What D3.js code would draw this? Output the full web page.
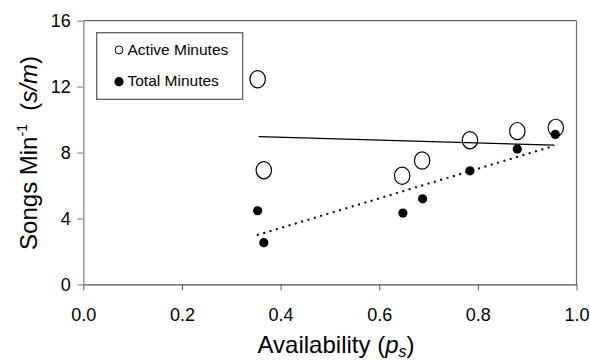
<!DOCTYPE html>
<html><head><meta charset="utf-8">
<script src="https://cdn.jsdelivr.net/npm/d3@7"></script>
<style>body{margin:0;background:#fff}svg{display:block}text{font-family:Arial,"Liberation Sans",sans-serif}</style>
</head><body>
<script>
const activeX = [0.3535, 0.366, 0.6465, 0.687, 0.784, 0.880, 0.958];
const activeY = [12.45, 6.93, 6.59, 7.52, 8.75, 9.30, 9.50];
const totalX = [0.3535, 0.366, 0.648, 0.688, 0.784, 0.880, 0.957];
const totalY = [4.47, 2.53, 4.33, 5.19, 6.89, 8.22, 9.10];
const activeFitX = [0.3556, 0.955];
const activeFitY = [8.97, 8.45];
const totalFitX = [0.352, 0.955];
const totalFitY = [2.99, 8.41];
const xTicks = [0, 0.2, 0.4, 0.6, 0.8, 1.0];
const yTicks = [0, 4, 8, 12, 16];
const legendLabels = ["Active Minutes", "Total Minutes"];

const W = 590, H = 364;
const svg = d3.select("body").append("svg").attr("width", W).attr("height", H);
const x = d3.scaleLinear().domain([0, 1]).range([83.3, 576.5]);
const y = d3.scaleLinear().domain([0, 16]).range([284.4, 20.7]);

// frame top & right
svg.append("line").attr("x1", x(0)).attr("x2", x(1)).attr("y1", y(16)).attr("y2", y(16)).attr("stroke", "#666").attr("stroke-width", 1.2);
svg.append("line").attr("x1", x(1)).attr("x2", x(1)).attr("y1", y(16)).attr("y2", y(0)).attr("stroke", "#666").attr("stroke-width", 1.2);

const xAxis = svg.append("g").attr("transform", `translate(0,${y(0)})`)
  .call(d3.axisBottom(x).tickValues(xTicks).tickFormat(d3.format(".1f")).tickSize(6).tickSizeOuter(0));
xAxis.select(".domain").attr("stroke", "#555").attr("stroke-width", 1.2);
xAxis.selectAll(".tick line").attr("stroke", "#555");
xAxis.selectAll(".tick text").attr("font-size", 18).attr("fill", "#000").attr("y", 23.5).attr("dy", "0.71em")
  .attr("font-family", "Arial, 'Liberation Sans', sans-serif");

const yAxis = svg.append("g").attr("transform", `translate(${x(0)},0)`)
  .call(d3.axisLeft(y).tickValues(yTicks).tickFormat(d3.format("d")).tickSize(6).tickSizeOuter(0));
yAxis.select(".domain").attr("stroke", "#999").attr("stroke-width", 1.5);
yAxis.selectAll(".tick line").attr("stroke", "#777");
yAxis.selectAll(".tick text").attr("font-size", 18).attr("fill", "#000").attr("x", -12.5)
  .attr("font-family", "Arial, 'Liberation Sans', sans-serif");

// fit lines
const line = d3.line().x(d => x(d[0])).y(d => y(d[1]));
svg.append("path").datum(activeFitX.map((v, i) => [v, activeFitY[i]])).attr("d", line)
  .attr("stroke", "#000").attr("stroke-width", 1.3).attr("fill", "none");
svg.append("path").datum(totalFitX.map((v, i) => [v, totalFitY[i]])).attr("d", line)
  .attr("stroke", "#000").attr("stroke-width", 2).attr("stroke-dasharray", "2,4.6").attr("fill", "none");

// points
svg.append("g").selectAll("ellipse").data(activeX.map((v, i) => [v, activeY[i]])).join("ellipse")
  .attr("cx", d => x(d[0])).attr("cy", d => y(d[1])).attr("rx", 7.7).attr("ry", 8.6)
  .attr("fill", "none").attr("stroke", "#000").attr("stroke-width", 1.2);
svg.append("g").selectAll("circle").data(totalX.map((v, i) => [v, totalY[i]])).join("circle")
  .attr("cx", d => x(d[0])).attr("cy", d => y(d[1])).attr("r", 4.6).attr("fill", "#000");

// legend
svg.append("rect").attr("x", 96.7).attr("y", 32.7).attr("width", 146).attr("height", 66.6)
  .attr("fill", "#fff").attr("stroke", "#555").attr("stroke-width", 1.2);
svg.append("circle").attr("cx", 119).attr("cy", 50).attr("r", 4).attr("fill", "none").attr("stroke", "#000").attr("stroke-width", 1);
svg.append("circle").attr("cx", 119).attr("cy", 81.7).attr("r", 4.6).attr("fill", "#000");
svg.append("text").attr("x", 127.5).attr("y", 55).attr("font-size", 15.5).text(legendLabels[0]);
svg.append("text").attr("x", 127.5).attr("y", 86.3).attr("font-size", 15.5).text(legendLabels[1]);

// x title
const xt = svg.append("text").attr("x", 336).attr("y", 353).attr("text-anchor", "middle").attr("font-size", 24);
xt.append("tspan").text("Availability (");
xt.append("tspan").attr("font-style", "italic").text("p");
xt.append("tspan").attr("font-style", "italic").attr("font-size", 16).attr("dy", 4).text("s");
xt.append("tspan").attr("dy", -4).text(")");

// y title
const yt = svg.append("text").attr("transform", "translate(37,153) rotate(-90)").attr("text-anchor", "middle").attr("font-size", 24);
yt.append("tspan").text("Songs Min");
yt.append("tspan").attr("font-size", 14).attr("dy", -10).text("-1");
yt.append("tspan").attr("dy", 10).text("\u00a0 (");
yt.append("tspan").attr("font-style", "italic").text("s/m");
yt.append("tspan").text(")");
</script>
</body></html>
